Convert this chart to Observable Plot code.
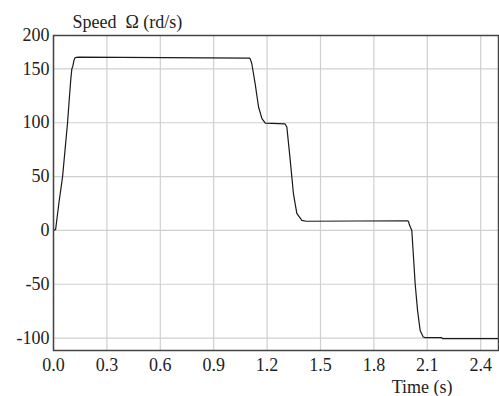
<!DOCTYPE html>
<html>
<head>
<meta charset="utf-8">
<script src="https://cdn.jsdelivr.net/npm/d3@7"></script>
<script src="https://cdn.jsdelivr.net/npm/@observablehq/plot@0.6"></script>
<style>
  html, body { margin: 0; padding: 0; background: #fff; }
  svg { display: block; }
</style>
</head>
<body>
<div id="chart"></div>
<script>
// Time (s)
const time = [0, 0.012, 0.03, 0.051, 0.065, 0.079, 0.09, 0.097, 0.103, 0.108, 0.115, 0.122, 0.14,
  1.1, 1.105, 1.114, 1.133, 1.152, 1.171, 1.19, 1.30, 1.311, 1.33, 1.348, 1.367, 1.395, 1.42,
  1.99, 1.995, 2.0, 2.013, 2.032, 2.045, 2.06, 2.077, 2.088, 2.18, 2.185, 2.5];
// Speed (rd/s)
const speed = [0, 1, 25, 50, 75, 100, 125, 140, 150, 152, 158, 160.5, 161,
  160, 159.5, 155, 136, 114.6, 103.8, 99.7, 99, 96, 65, 34, 15.8, 9.3, 8.5,
  9, 8, 5, 0, -50, -74, -93, -99, -99.5, -99.5, -100.5, -100.5];

const xTicks = [0, 0.3, 0.6, 0.9, 1.2, 1.5, 1.8, 2.1, 2.4];
const yTicks = [-100, -50, 0, 50, 100, 150];
const yTopLabel = "200";
const yTitle = "Speed  \u03A9 (rd/s)";
const xTitle = "Time (s)";

const data = time.map((t, i) => ({t, v: speed[i]}));
const font = "Liberation Serif, Times New Roman, serif";

const chart = Plot.plot({
  width: 499,
  height: 396,
  marginTop: 35,
  marginLeft: 53,
  marginRight: 1,
  marginBottom: 46,
  style: {fontFamily: font, fontSize: "18px", color: "#222", background: "#fff"},
  x: {domain: [0, 2.5]},
  y: {domain: [-111.5, 181]},
  marks: [
    Plot.gridX(xTicks, {stroke: "#cfcfcf", strokeOpacity: 1, strokeWidth: 1.2}),
    Plot.gridY(yTicks, {stroke: "#cfcfcf", strokeOpacity: 1, strokeWidth: 1.2}),
    Plot.axisX(xTicks, {tickSize: 0, tickPadding: 8, tickFormat: d3.format(".1f"), label: null, fontSize: 18}),
    Plot.axisY(yTicks, {tickSize: 0, tickPadding: 4, tickFormat: d => String(d), label: null, fontSize: 18}),
    Plot.line(data, {x: "t", y: "v", stroke: "#1a1a1a", strokeWidth: 1.2}),
    Plot.frame({stroke: "#444", strokeWidth: 1.5}),
    Plot.text([yTopLabel], {frameAnchor: "top-left", text: d => d, dx: -4, textAnchor: "end", lineAnchor: "middle", fontSize: 18, fill: "#222"}),
    Plot.text([yTitle], {frameAnchor: "top-left", text: d => d, dx: 19, dy: -13.5, textAnchor: "start", lineAnchor: "middle", fontSize: 18, fill: "#222"}),
    Plot.text([xTitle], {frameAnchor: "bottom-right", text: d => d, dx: -46, dy: 37, textAnchor: "end", lineAnchor: "middle", fontSize: 18, fill: "#222"})
  ]
});
document.getElementById("chart").appendChild(chart);
</script>
</body>
</html>
